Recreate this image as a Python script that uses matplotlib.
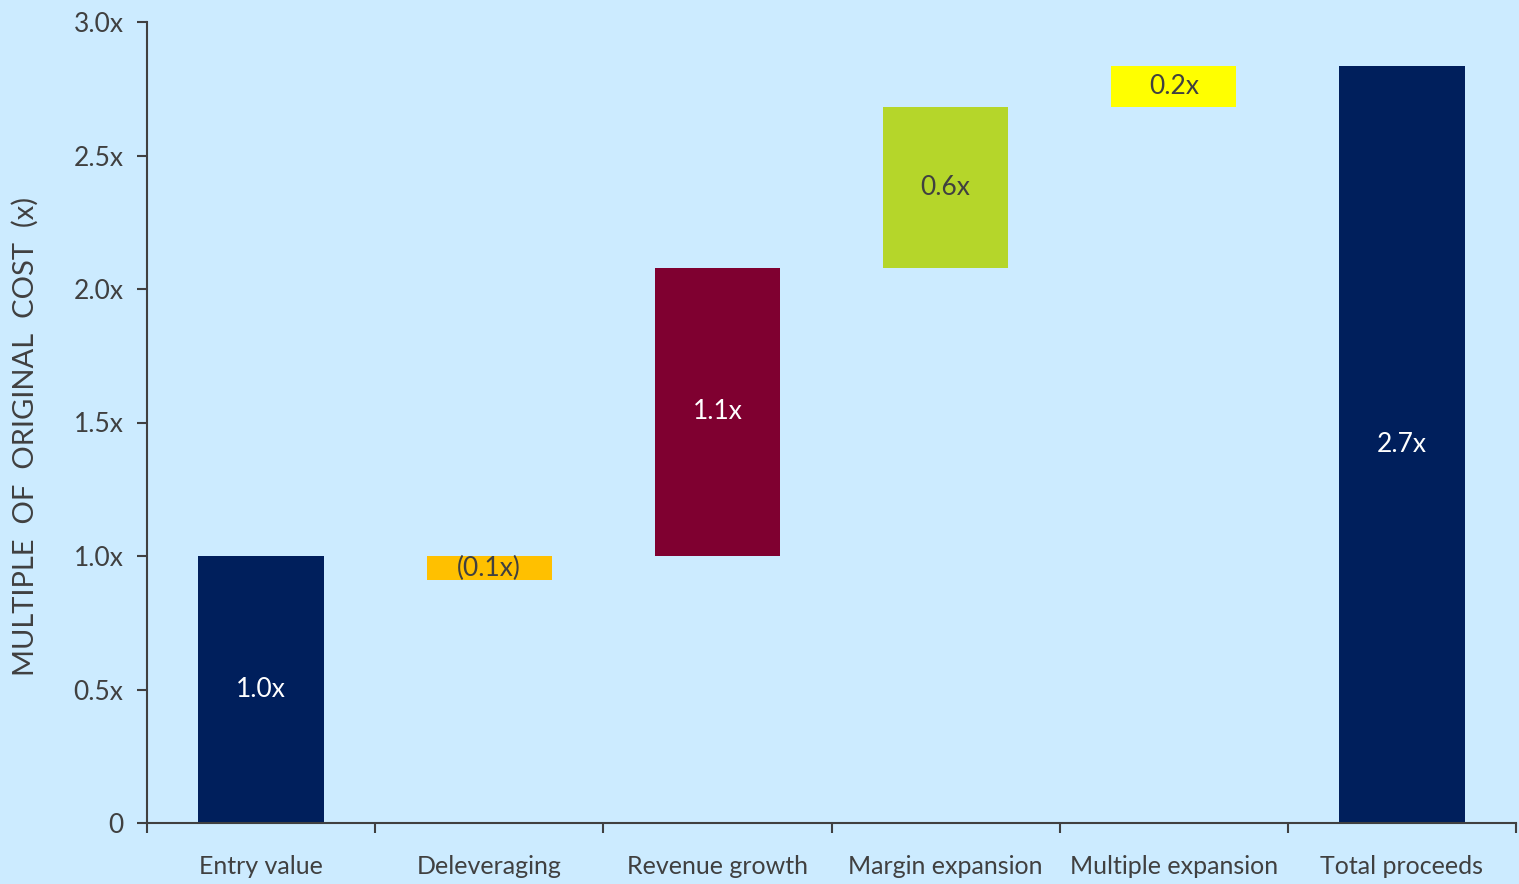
import matplotlib.pyplot as plt

# waterfall data (multiple of original cost)
categories = ['Entry value', 'Deleveraging', 'Revenue growth', 'Margin expansion',
              'Multiple expansion', 'Total proceeds']
bottoms = [0.0, 0.91, 1.0, 2.08, 2.68, 0.0]
tops = [1.0, 1.0, 2.08, 2.68, 2.835, 2.835]
labels = ['1.0x', '(0.1x)', '1.1x', '0.6x', '0.2x', '2.7x']
colors = ['#001F5C', '#FFC000', '#7F0030', '#B5D62A', '#FFFF00', '#001F5C']
text_colors = ['white', '#404040', 'white', '#404040', '#404040', 'white']

bg = '#CCEBFF'
grey = '#404040'
plt.rcParams['font.family'] = ['Lato', 'DejaVu Sans']

fig = plt.figure(figsize=(15.19, 8.84), dpi=100, facecolor=bg)
ax = fig.add_axes([147 / 1519, 61 / 884, (1516 - 147) / 1519, (823 - 22) / 884])
ax.set_facecolor(bg)

x = list(range(len(categories)))
heights = [t - b for t, b in zip(tops, bottoms)]
ax.bar(x, heights, bottom=bottoms, width=0.55, color=colors, zorder=2)

for i in x:
    mid = (bottoms[i] + tops[i]) / 2
    ax.text(i, mid, labels[i], ha='center', va='center', fontsize=19,
            color=text_colors[i], zorder=3)

ax.set_xlim(-0.5, len(categories) - 0.5)
ax.set_ylim(0, 3.0)
ax.set_yticks([0, 0.5, 1.0, 1.5, 2.0, 2.5, 3.0])
ax.set_yticklabels(['0', '0.5x', '1.0x', '1.5x', '2.0x', '2.5x', '3.0x'])

# category labels centred, boundary ticks on the x axis
ax.set_xticks([i - 0.5 for i in range(len(categories) + 1)])
ax.set_xticklabels([])
ax.set_xticks(x, minor=True)
ax.set_xticklabels(categories, minor=True)
ax.tick_params(axis='x', which='minor', length=0, pad=23, labelsize=18, labelcolor=grey)
ax.tick_params(axis='x', which='major', length=7, width=1.5, color=grey, direction='out')
ax.tick_params(axis='y', length=7, width=1.5, color=grey, labelsize=19, labelcolor=grey, pad=10)

for s in ['top', 'right']:
    ax.spines[s].set_visible(False)
for s in ['left', 'bottom']:
    ax.spines[s].set_color(grey)
    ax.spines[s].set_linewidth(1.5)

ax.set_ylabel('MULTIPLE  OF  ORIGINAL  COST  (x)', fontsize=21, color=grey)
ax.yaxis.set_label_coords(-0.079, (823 - 436) / 801)

fig.savefig('out.png', dpi=100, facecolor=bg)
